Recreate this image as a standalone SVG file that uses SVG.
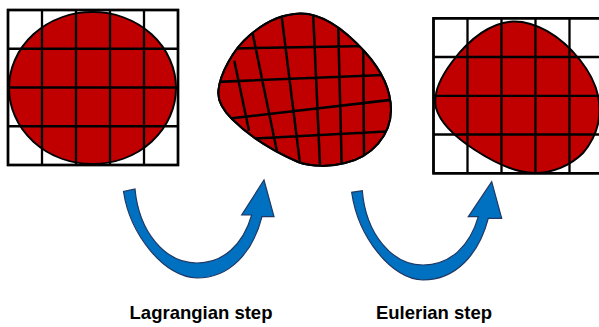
<svg xmlns="http://www.w3.org/2000/svg" width="599" height="327" viewBox="0 0 599 327">
<style>
.blob{fill:#C00000;stroke:#000;stroke-width:2}
.grid{fill:none;stroke:#000;stroke-width:2.3}
.frame{fill:#fff;stroke:#000;stroke-width:2.5}
.mesh{fill:none;stroke:#000;stroke-width:2.5}
.arrow{fill:#0070C0;stroke:#1F3864;stroke-width:1.2;stroke-linejoin:miter}
.label{font-family:"Liberation Sans",Arial,sans-serif;font-weight:bold;font-size:18.5px;fill:#000;text-anchor:middle}
</style>
<defs>
<clipPath id="midClip">
<path d="M300,13.5 C322,13 345,30 365,52 C383,72 391,92 391,110 C391,135 372,157 345,163 C330,167 312,167 298,162 C275,152 250,137 232,119 C222,109 217,100 218.5,90 C220,75 232,50 250,35 C265,22 283,14 300,13.5 Z"/>
</clipPath>
</defs>

<g id="initial-mesh">
<rect class="frame" x="8" y="10" width="170" height="155"/>
<ellipse class="blob" cx="92.5" cy="88" rx="83.5" ry="76"/>
<path class="grid" d="M42,10V165M76,10V165M110,10V165M144,10V165M8,48.75H178M8,87.5H178M8,126.25H178"/>
<rect class="grid" x="8" y="10" width="170" height="155" stroke-width="2.6"/>
</g>

<g id="deformed-mesh">
<path class="blob" d="M300,13.5 C322,13 345,30 365,52 C383,72 391,92 391,110 C391,135 372,157 345,163 C330,167 312,167 298,162 C275,152 250,137 232,119 C222,109 217,100 218.5,90 C220,75 232,50 250,35 C265,22 283,14 300,13.5 Z"/>
<g clip-path="url(#midClip)">
<path class="mesh" d="M234.3,60.7L249,130.7M252.3,31.8L277.7,155M281,11L300.7,169M313,10L320.3,172M338.2,26L341.8,170M363.3,45L364,156M236,48.4L370,45.9M215,82L390,74.7M225,119L396,99.3M255,138.6L392,131.3"/>
</g>
<path d="M300,13.5 C322,13 345,30 365,52 C383,72 391,92 391,110 C391,135 372,157 345,163 C330,167 312,167 298,162 C275,152 250,137 232,119 C222,109 217,100 218.5,90 C220,75 232,50 250,35 C265,22 283,14 300,13.5 Z" fill="none" stroke="#000" stroke-width="2"/>
</g>

<g id="remapped-mesh">
<rect class="frame" x="433.5" y="18.3" width="170" height="155"/>
<path class="blob" d="M513,21.5 C535,21 560,35 580,60 C592,75 599,90 599.5,108 C600,125 594,140 583,153 C570,166 552,173 535,173 C515,173 495,163 475,150 C455,137 440,122 436,108 C433,95 440,78 452,62 C470,38 492,22 513,21.5 Z"/>
<path class="grid" d="M467.5,18.3V173.3M501.5,18.3V173.3M535.5,18.3V173.3M569.5,18.3V173.3M433.5,57H603M433.5,95.8H603M433.5,134.5H603"/>
<rect class="grid" x="433.5" y="18.3" width="170" height="155" stroke-width="2.6"/>
</g>

<g id="connectors">
<path id="lagrangian-arrow" class="arrow" d="M123.5,191.5 C130,235 165,278 197,278 C230,278 253,252 262,216.7 L274,216.7 L264,180 L241.7,215 L251.7,215 C243,245 223,263 197,263 C165,263 139,232 135,189 Z"/>
<path id="eulerian-arrow" class="arrow" d="M351.7,192.3 C358,237 392,280 423,280 C456,280 479,254 488.3,218.3 L501.7,218.3 L491.7,181.7 L468.3,216.7 L478.3,216.7 C470,246 450,265 423,265 C392,265 366,234 362.3,190.7 Z"/>
</g>

<g id="labels">
<text class="label" x="201" y="319">Lagrangian step</text>
<text class="label" x="434" y="319">Eulerian step</text>
</g>
</svg>
